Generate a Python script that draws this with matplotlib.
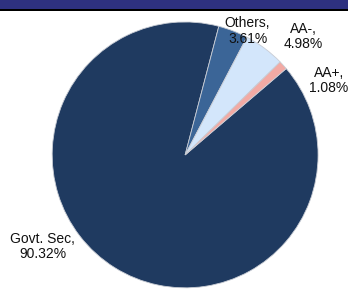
import matplotlib.pyplot as plt
from matplotlib.patches import Rectangle

labels = ["Govt. Sec", "Others", "AA-", "AA+"]
shares = [90.32, 3.61, 4.98, 1.08]
colors = ["#1f3a60", "#3b6597", "#d3e6fb", "#f2aaa4"]
# where each label sits, in pie units (radius = 1)
label_pos = [(-1.07, -0.69), (0.47, 0.93), (0.89, 0.89), (1.08, 0.56)]

plt.rcParams['font.family'] = ['Liberation Sans', 'DejaVu Sans']

fig = plt.figure(figsize=(3.48, 2.89), dpi=100)

# header band
fig.patches.append(Rectangle((0, 1 - 9 / 289), 1, 9 / 289, transform=fig.transFigure,
                             facecolor="#2e3180", edgecolor="none"))
fig.patches.append(Rectangle((0, 1 - 10.5 / 289), 1, 1.5 / 289, transform=fig.transFigure,
                             facecolor="#000000", edgecolor="none"))

ax = fig.add_axes([0.150, 0.004, 0.764, 0.920])
wedges, _ = ax.pie(shares, colors=colors, startangle=40.5, counterclock=False,
                   wedgeprops=dict(edgecolor="#c8ccd4", linewidth=0.6))
ax.set_xlim(-1, 1)
ax.set_ylim(-1, 1)
ax.set_aspect("equal")

for lab, val, (x, y) in zip(labels, shares, label_pos):
    ax.text(x, y, f"{lab},\n{val:.2f}%", ha="center", va="center", fontsize=10,
            color="#111111", linespacing=1.15, clip_on=False)

fig.savefig("out.png", dpi=100)
